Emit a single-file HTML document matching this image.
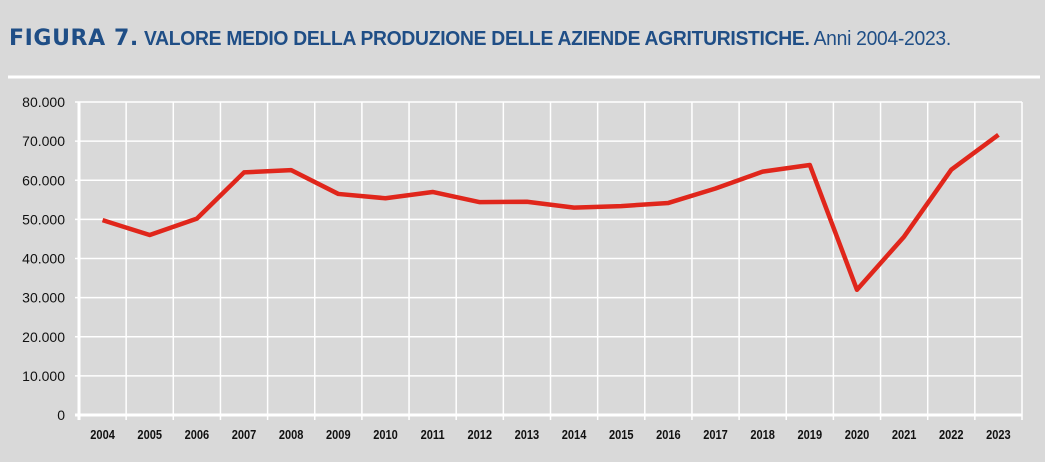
<!DOCTYPE html>
<html><head><meta charset="utf-8"><style>
body{margin:0;width:1045px;height:462px;background:#d9d9d9;overflow:hidden;font-family:"Liberation Sans",Arial,sans-serif}
#title{position:absolute;left:9px;top:26px;font-size:20px;color:#1f4e86;white-space:nowrap;letter-spacing:-0.3px}
#title b.f{font-family:"DejaVu Sans",sans-serif;font-weight:900;font-size:22px;letter-spacing:0.6px}
</style></head><body>
<div id="title"><b class="f">FIGURA 7.</b> <span style="display:inline-block;transform:scaleX(0.965);transform-origin:left"><b>VALORE MEDIO DELLA PRODUZIONE DELLE AZIENDE AGRITURISTICHE.</b> Anni 2004-2023.</span></div>
<svg id="chart" width="1045" height="462" style="position:absolute;left:0;top:0">
<line x1="8" x2="1040" y1="77" y2="77" stroke="#fff" stroke-width="3"/>
</svg>
<script>
const categories=["2004","2005","2006","2007","2008","2009","2010","2011","2012","2013","2014","2015","2016","2017","2018","2019","2020","2021","2022","2023"];
const values=[49800,46000,50200,62000,62600,56500,55400,57000,54400,54500,53000,53400,54200,57900,62200,63900,32000,45600,62700,71600];
const yTicks=[0,10000,20000,30000,40000,50000,60000,70000,80000];
const yTickLabels=["0","10.000","20.000","30.000","40.000","50.000","60.000","70.000","80.000"];
const svg=document.getElementById('chart');const NS='http://www.w3.org/2000/svg';
const L=79,R=1022,T=102,B=415,yMax=80000;
const bw=(R-L)/categories.length;
const x=i=>L+bw*(i+0.5);const y=v=>B-(v/yMax)*(B-T);
function mk(t,a){const e=document.createElementNS(NS,t);for(const k in a)e.setAttribute(k,a[k]);svg.appendChild(e);return e;}
yTicks.forEach((v,i)=>{
const g=mk('line',{x1:L-4,x2:R,y1:y(v),y2:y(v),stroke:'#fff','stroke-width':v===0?3:1.5});


const t=mk('text',{x:L-14,y:y(v)+5,'text-anchor':'end','font-size':14,fill:'#111'});t.textContent=yTickLabels[i];


});
for(let i=0;i<=categories.length;i++){
const g=mk('line',{x1:L+bw*i,x2:L+bw*i,y1:T,y2:B+5,stroke:'#fff','stroke-width':i===0?3:1.5});


}
categories.forEach((c,i)=>{
const t=mk('text',{x:x(i),y:439,'text-anchor':'middle','font-size':13,'font-weight':'bold',fill:'#111',transform:`translate(${x(i)},0) scale(0.85,1) translate(${-x(i)},0)`});t.textContent=c;


});
const p=mk('polyline',{points:values.map((v,i)=>x(i)+','+y(v)).join(' '),fill:'none',stroke:'#e0261b','stroke-width':4.5,'stroke-linejoin':'round'});


</script>
</body></html>
